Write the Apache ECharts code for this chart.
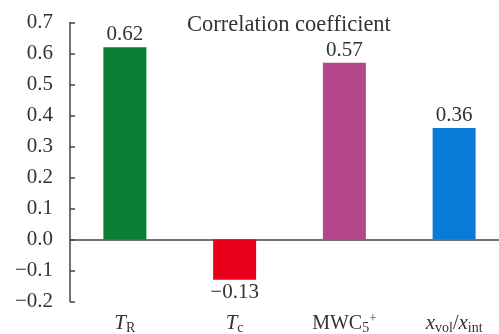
<!DOCTYPE html>
<html>
<head>
<meta charset="utf-8">
<script src="https://cdn.jsdelivr.net/npm/echarts@6/dist/echarts.min.js"></script>
<style>
  html, body { margin: 0; padding: 0; background: #fff; }
  #chart { width: 499px; height: 334px; }
</style>
</head>
<body>
<div id="chart"></div>
<script>
// Correlation coefficient of each parameter
const categories = ['TR', 'Tc', 'MWC5+', 'xvol/xint'];
const categoryLabels = [
  '{i|T}{sub|R}',
  '{i|T}{sub|c}',
  '{n|MWC}{sub|5}{sup|+}',
  '{i|x}{sub|vol}{n|/}{i|x}{sub|int}'
];
const values = [0.62, -0.13, 0.57, 0.36];
const barColors = ['#0a7f33', '#e8001a', '#b3478a', '#0a7ad8'];
const yTicks = { min: -0.2, max: 0.7, step: 0.1 };

const serif = '"Liberation Serif", "DejaVu Serif", serif';
const ink = '#333';
const fmt = v => (v < 0 ? '\u2212' : '') + Math.abs(v).toFixed(2);

const chart = echarts.init(document.getElementById('chart'));
chart.setOption({
  animation: false,
  title: {
    text: 'Correlation coefficient',
    left: 182, top: 9,
    textStyle: { fontFamily: serif, fontSize: 22.5, fontWeight: 'normal', color: ink }
  },
  grid: { left: 70, top: 22.5, height: 279, width: 439, outerBoundsMode: 'none' },
  xAxis: {
    type: 'category',
    data: categories,
    axisLine: { onZero: true, lineStyle: { color: '#444', width: 1.5 } },
    axisTick: { show: false },
    axisLabel: {
      interval: 0,
      margin: 10,
      formatter: (v, i) => categoryLabels[i],
      rich: {
        i: { fontFamily: serif, fontStyle: 'italic', fontSize: 21, color: ink },
        n: { fontFamily: serif, fontSize: 20, color: ink },
        sub: { fontFamily: serif, fontSize: 14, color: ink, padding: [10, 0, 0, 0] },
        sup: { fontFamily: serif, fontSize: 13, color: ink, padding: [0, 0, 10, 0] }
      }
    }
  },
  yAxis: {
    type: 'value',
    min: yTicks.min, max: yTicks.max, interval: yTicks.step,
    splitLine: { show: false },
    axisLine: { show: true, lineStyle: { color: '#444', width: 1.5 } },
    axisTick: { show: true, inside: true, length: 5, lineStyle: { color: '#444', width: 1.5 } },
    axisLabel: {
      margin: 17,
      fontFamily: serif, fontSize: 21, color: ink,
      formatter: v => (v < -1e-9 ? '\u2212' : '') + Math.abs(v).toFixed(1)
    }
  },
  series: [{
    type: 'bar',
    barWidth: 43,
    data: values.map((v, i) => ({ value: v, itemStyle: { color: barColors[i] } })),
    label: {
      show: true,
      position: 'outside',
      distance: 2,
      fontFamily: serif, fontSize: 21, color: ink,
      formatter: p => fmt(p.value)
    }
  }]
});
</script>
</body>
</html>
